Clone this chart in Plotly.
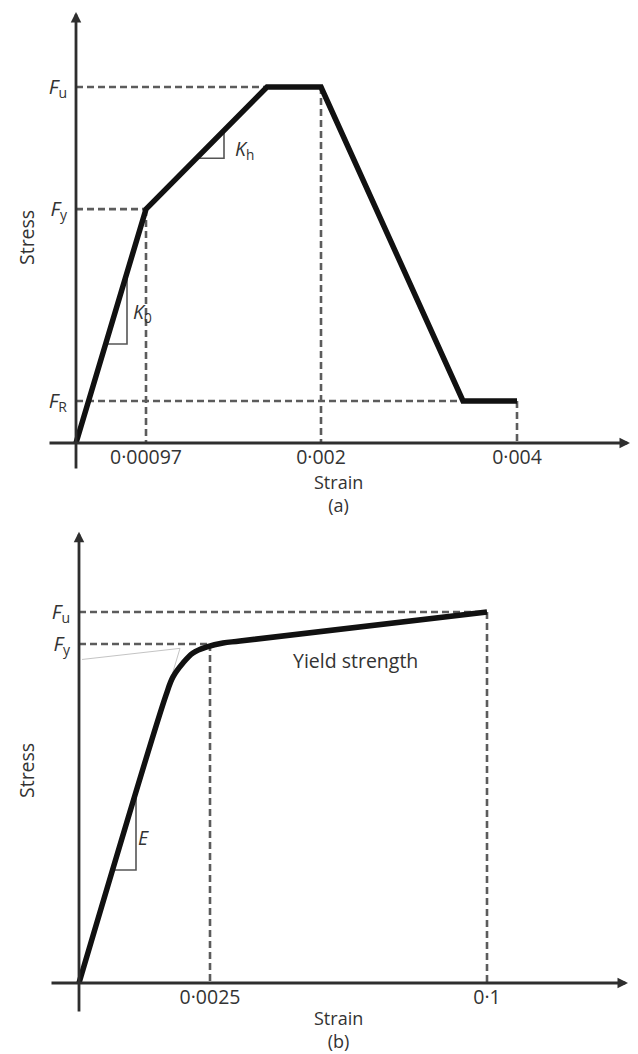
import plotly.graph_objects as go

FIG_W, FIG_H = 638, 1054
FONT = "Open Sans"
FONT_SIZE = 19.5
TEXT_C = "#333333"
CURVE_C = "#111111"
GUIDE_C = "#5c5c5c"
AXIS_C = "#2e2e2e"

# ---------------- (a) multi-linear stress-strain model ----------------
# Strain axis is schematic (not to scale): positions are diagram units.
A_STRAIN_POS = [0.0, 0.70, 1.91, 2.45, 3.87, 4.41]
A_STRESS = [0.0, 0.657, 1.0, 1.0, 0.118, 0.118]  # normalised by Fu
A_FU, A_FY, A_FR = 1.0, 0.657, 0.118
A_X_YIELD, A_X_FU_END, A_X_FR_START, A_X_END = 0.70, 2.45, 3.87, 4.41
A_X_FU_START = 1.91
A_TICK_POS = [0.70, 2.45, 4.41]
A_TICK_TEXT = ["0·00097", "0·002", "0·004"]
A_STRESS_TICKS = [A_FU, A_FY, A_FR]
A_STRESS_TEXT = ["<i>F</i><sub>u</sub>", "<i>F</i><sub>y</sub>", "<i>F</i><sub>R</sub>"]
# slope markers (start on curve, right-angle corner, end on curve)
A_KH_X = [1.204, 1.48, 1.48]
A_KH_Y = [0.80, 0.80, 0.878]
A_K0_X = [0.296, 0.51, 0.51]
A_K0_Y = [0.278, 0.278, 0.479]

# ---------------- (b) elastic / plastic curve with rounded knee ----------------
B_CURVE_X = [0.0, 0.87, 0.94, 1.04, 1.14, 1.28, 1.44, 1.61, 4.08]
B_CURVE_Y = [0.0, 0.776, 0.825, 0.8625, 0.8895, 0.9057, 0.9164, 0.9218, 1.0]
B_FU, B_FY = 1.0, 0.9137
B_X_YIELD, B_X_ULT = 1.31, 4.08
B_TICK_POS = [1.31, 4.08]
B_TICK_TEXT = ["0·0025", "0·1"]
B_STRESS_TICKS = [B_FU, B_FY]
B_STRESS_TEXT = ["<i>F</i><sub>u</sub>", "<i>F</i><sub>y</sub>"]
# thin construction lines: hardening branch and elastic branch extended
B_HARD_EXT_X = [0.03, 1.01]
B_HARD_EXT_Y = [0.872, 0.902]
B_ELAS_EXT_X = [0.87, 1.01]
B_ELAS_EXT_Y = [0.776, 0.902]
B_E_X = [0.341, 0.57, 0.57]
B_E_Y = [0.3046, 0.3046, 0.5085]

fig = go.Figure()


def guide(xs, ys, xa, ya):
    fig.add_trace(go.Scatter(
        x=xs, y=ys, xaxis=xa, yaxis=ya, mode="lines", hoverinfo="skip",
        line=dict(color=GUIDE_C, width=2.6, dash="7px,4px"), showlegend=False))


def thin(xs, ys, xa, ya, color="#555555", width=1.6):
    fig.add_trace(go.Scatter(
        x=xs, y=ys, xaxis=xa, yaxis=ya, mode="lines", hoverinfo="skip",
        line=dict(color=color, width=width), showlegend=False))


# ---- panel (a) guides
guide([0, A_X_FU_START], [A_FU, A_FU], "x", "y")
guide([0, A_X_YIELD], [A_FY, A_FY], "x", "y")
guide([0, A_X_FR_START], [A_FR, A_FR], "x", "y")
guide([A_X_YIELD, A_X_YIELD], [A_FY, 0], "x", "y")
guide([A_X_FU_END, A_X_FU_END], [A_FU, 0], "x", "y")
guide([A_X_END, A_X_END], [A_FR, 0], "x", "y")
thin(A_KH_X, A_KH_Y, "x", "y")
thin(A_K0_X, A_K0_Y, "x", "y")
fig.add_trace(go.Scatter(
    x=A_STRAIN_POS, y=A_STRESS, xaxis="x", yaxis="y", mode="lines",
    line=dict(color=CURVE_C, width=5.5), hoverinfo="skip", showlegend=False))

# ---- panel (b) guides
guide([0, B_X_ULT], [B_FU, B_FU], "x2", "y2")
guide([0, B_X_YIELD], [B_FY, B_FY], "x2", "y2")
guide([B_X_YIELD, B_X_YIELD], [B_FY, 0], "x2", "y2")
guide([B_X_ULT, B_X_ULT], [B_FU, 0], "x2", "y2")
thin(B_HARD_EXT_X, B_HARD_EXT_Y, "x2", "y2", color="#c4c4c4", width=1)
thin(B_ELAS_EXT_X, B_ELAS_EXT_Y, "x2", "y2", color="#c4c4c4", width=1)
thin(B_E_X, B_E_Y, "x2", "y2")
fig.add_trace(go.Scatter(
    x=B_CURVE_X, y=B_CURVE_Y, xaxis="x2", yaxis="y2", mode="lines",
    line=dict(color=CURVE_C, width=5.5, shape="spline", smoothing=1.0),
    hoverinfo="skip", showlegend=False))

annotations = []


def axis_arrow(x0, y0, x1, y1, xa, ya):
    annotations.append(dict(
        x=x1, y=y1, ax=x0, ay=y0, xref=xa, yref=ya, axref=xa, ayref=ya,
        text="", showarrow=True, arrowhead=2, arrowsize=0.75, arrowwidth=2.8,
        arrowcolor=AXIS_C))


# axes with arrow tips
axis_arrow(0, -0.076, 0, 1.211, "x", "y")
axis_arrow(-0.28, 0, 5.54, 0, "x", "y")
axis_arrow(0, -0.081, 0, 1.216, "x2", "y2")
axis_arrow(-0.29, 0, 5.49, 0, "x2", "y2")


def label(text, x, y, xa, ya, xanchor="left", **kw):
    annotations.append(dict(
        text=text, x=x, y=y, xref=xa, yref=ya, showarrow=False,
        xanchor=xanchor, yanchor="middle",
        font=dict(family=FONT, size=FONT_SIZE, color=TEXT_C), **kw))


label("<i>K</i><sub>h</sub>", 1.57, 0.834, "x", "y", yshift=-3)
label("<i>K</i><sub>0</sub>", 0.55, 0.376, "x", "y", yshift=-3)
label("<i>E</i>", 0.57, 0.3935, "x2", "y2")
label("Yield strength", 2.12, 0.868, "x2", "y2")

# rotated stress titles (paper coordinates)
for px, py in [(26, 238), (26, 771)]:
    annotations.append(dict(
        text="Stress", x=px / FIG_W, y=1 - py / FIG_H, xref="paper", yref="paper",
        showarrow=False, xanchor="center", yanchor="middle", textangle=-90,
        font=dict(family=FONT, size=FONT_SIZE, color=TEXT_C)))

# strain titles with panel captions underneath
for txt, px, py, anchor in [("Strain<br>(a)", 338, 493, "middle"),
                            ("Strain<br>(b)", 338, 1054, "bottom")]:
    annotations.append(dict(
        text=txt, x=px / FIG_W, y=1 - py / FIG_H, xref="paper", yref="paper",
        showarrow=False, xanchor="center", yanchor=anchor, borderpad=0,
        font=dict(family=FONT, size=18, color=TEXT_C)))

common_x = dict(showgrid=False, zeroline=False, showline=False, ticks="",
                fixedrange=True, anchor="free",
                tickfont=dict(family=FONT, size=FONT_SIZE, color=TEXT_C))
common_y = dict(showgrid=False, zeroline=False, showline=False, ticks="",
                fixedrange=True, anchor="free", ticklabelstandoff=9,
                tickfont=dict(family=FONT, size=20, color=TEXT_C))

fig.update_layout(
    width=FIG_W, height=FIG_H,
    margin=dict(l=0, r=0, t=0, b=0),
    paper_bgcolor="white", plot_bgcolor="white",
    showlegend=False,
    annotations=annotations,
    xaxis=dict(domain=[0, 1], range=[-0.76, 5.62], position=1 - 443 / FIG_H,
               tickvals=A_TICK_POS, ticktext=A_TICK_TEXT, **common_x),
    yaxis=dict(domain=[0.5, 1], range=[-0.236, 1.2444], position=76 / FIG_W,
               tickvals=A_STRESS_TICKS, ticktext=A_STRESS_TEXT, **common_y),
    xaxis2=dict(domain=[0, 1], range=[-0.79, 5.59], position=1 - 983 / FIG_H,
                tickvals=B_TICK_POS, ticktext=B_TICK_TEXT, **common_x),
    yaxis2=dict(domain=[0, 0.5], range=[-0.1914, 1.2291], position=79 / FIG_W,
                tickvals=B_STRESS_TICKS, ticktext=B_STRESS_TEXT, **common_y),
)

fig.write_html("out.html", config={"displayModeBar": False})
